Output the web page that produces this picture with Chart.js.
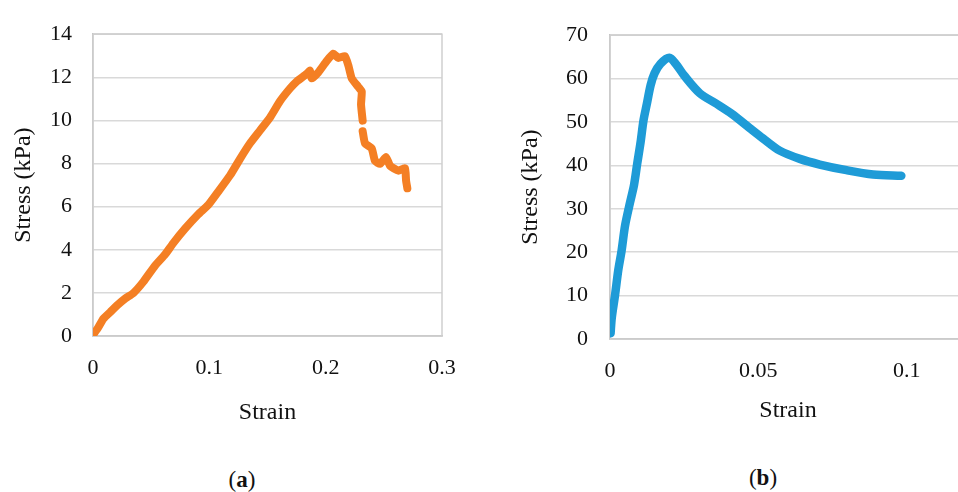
<!DOCTYPE html>
<html>
<head>
<meta charset="utf-8">
<script src="https://cdn.jsdelivr.net/npm/chart.js@4.4.1/dist/chart.umd.min.js"></script>
<style>
  html, body { margin: 0; padding: 0; background: #fff; overflow: hidden; width: 958px; height: 492px; }
  canvas { position: absolute; top: 0; }
  #chartA { left: 0; }
  #chartB { left: 480px; }
  .cap { position: absolute; font-family: 'Liberation Serif', serif; font-size: 23px; color: #111; transform: translate(-50%, -50%); }
</style>
</head>
<body>
<canvas id="chartA" width="480" height="440"></canvas>
<canvas id="chartB" width="500" height="440"></canvas>
<div class="cap" style="left:242px; top:480px;">(<b>a</b>)</div>
<div class="cap" style="left:763px; top:478px;">(<b>b</b>)</div>

<script>
// ---- data ----
// (a) sample: stress-strain, null marks the small break in the markers
const strainA = [0, 0.004, 0.0089, 0.015, 0.0218, 0.028, 0.0347, 0.0432, 0.0533, 0.0619,
  0.069, 0.0791, 0.0905, 0.0991, 0.1077, 0.1178, 0.1264, 0.135, 0.1436, 0.1522,
  0.1607, 0.1693, 0.1751, 0.1837, 0.1865, 0.188, 0.1937, 0.2009, 0.2066, 0.2109,
  0.2166, 0.2195, 0.2224, 0.228, 0.231, 0.2304, 0.2318, 0.2319, 0.2318, 0.2338,
  0.2396, 0.2424, 0.2467, 0.2519, 0.2553, 0.2625, 0.2682, 0.2691, 0.2702];
const stressA = [0.05, 0.35, 0.8, 1.12, 1.47, 1.75, 1.99, 2.51, 3.26, 3.78,
  4.31, 4.98, 5.65, 6.08, 6.7, 7.45, 8.22, 8.94, 9.54, 10.14,
  10.89, 11.48, 11.81, 12.16, 12.31, 11.95, 12.23, 12.76, 13.1, 12.9,
  12.98, 12.55, 11.95, 11.56, 11.34, 10.74, 9.99, null, 9.5, 8.94,
  8.7, 8.12, 7.99, 8.3, 7.9, 7.67, 7.78, 7.22, 6.85];
// few small blue markers visible on top of the orange series
const dotStrainA = [0.1865, 0.2195, 0.2205, 0.2298, 0.2302, 0.2306, 0.231, 0.2316, 0.2686, 0.2692, 0.2702];
const dotStressA = [12.33, 12.65, 12.3, 11.2, 10.85, 10.5, 10.25, 10.0, 7.7, 7.3, 6.9];

// (b) sample
const strainB = [0.0002, 0.0006, 0.0017, 0.0028, 0.0039, 0.0051, 0.0067, 0.0081, 0.0092, 0.0103,
  0.0113, 0.0124, 0.0137, 0.015, 0.017, 0.02, 0.0224, 0.025, 0.0303, 0.0359,
  0.041, 0.0471, 0.0516, 0.0572, 0.064, 0.0707, 0.0797, 0.0887, 0.0982];
const stressB = [1.3, 4.9, 10.1, 15.9, 20.3, 26.2, 31.3, 35.5, 40.5, 45.3,
  50.4, 54.1, 58.5, 61.2, 63.4, 64.8, 63.2, 60.7, 56.6, 54.2,
  51.9, 48.6, 46.2, 43.4, 41.5, 40.2, 38.9, 37.9, 37.6];

const xTicksA = [0, 0.1, 0.2, 0.3];
const xTicksB = [0, 0.05, 0.1];

const FONT = 'Liberation Serif';
const TEXT = '#111';

function toPoints(xs, ys) {
    return xs.map((x, i) => ({ x: x, y: ys[i] }));
}

// light frame round the plot area, like the spreadsheet chart
const frame = {
    id: 'frame',
    beforeDatasetsDraw(chart) {
        const a = chart.chartArea;
        const c = chart.ctx;
        c.save();
        c.strokeStyle = '#cfcfcf';
        c.lineWidth = 1.5;
        c.strokeRect(a.left, a.top, a.right - a.left, a.bottom - a.top);
        c.restore();
    }
};

function makeChart(id, cfg) {
    return new Chart(document.getElementById(id), {
        type: 'scatter',
        data: { datasets: cfg.datasets },
        options: {
            responsive: false,
            animation: false,
            layout: { padding: cfg.padding },
            plugins: { legend: { display: false }, tooltip: { enabled: false } },
            scales: {
                x: {
                    type: 'linear',
                    min: 0,
                    max: cfg.xMax,
                    afterBuildTicks: s => { s.ticks = cfg.xTicks.map(v => ({ value: v })); },
                    afterFit: s => { s.height = cfg.xHeight; },
                    grid: { display: false, drawTicks: false },
                    border: { color: '#bfbfbf', width: 1.5 },
                    ticks: {
                        color: TEXT, padding: 19, font: { family: FONT, size: 22 },
                        maxRotation: 0, callback: v => String(v)
                    },
                    title: {
                        display: true, text: 'Strain', color: TEXT,
                        font: { family: FONT, size: 24 }, padding: { top: 0, bottom: cfg.xTitlePad }
                    }
                },
                y: {
                    min: 0,
                    max: cfg.yMax,
                    afterFit: s => { s.width = cfg.yWidth; },
                    grid: { color: '#d9d9d9', lineWidth: 1.5, drawTicks: false },
                    border: { color: '#bfbfbf', width: 1.5 },
                    ticks: { stepSize: cfg.yStep, color: TEXT, padding: cfg.yTickPad, font: { family: FONT, size: 22 } },
                    title: {
                        display: true, text: 'Stress (kPa)', color: TEXT,
                        font: { family: FONT, size: 24 }, padding: { top: cfg.yTitlePad, bottom: 0 }
                    }
                }
            }
        },
        plugins: cfg.frame ? [frame] : []
    });
}

makeChart('chartA', {
    datasets: [{
        data: toPoints(strainA, stressA),
        showLine: true,
        spanGaps: false,
        tension: 0.15,
        borderColor: '#f47f24',
        borderWidth: 8,
        borderCapStyle: 'round',
        borderJoinStyle: 'round',
        pointRadius: 0
    }, {
        data: toPoints(dotStrainA, dotStressA),
        showLine: false,
        pointRadius: 1.6,
        pointBorderWidth: 0,
        pointBackgroundColor: '#3a9bd0'
    }],
    padding: { top: 24, right: 38, bottom: 0, left: 0 },
    xMax: 0.3, xTicks: xTicksA, xHeight: 104, xTitlePad: 13,
    yMax: 14, yStep: 2, yWidth: 93, yTickPad: 21, yTitlePad: 9,
    frame: true
});

makeChart('chartB', {
    datasets: [{
        data: toPoints(strainB, stressB),
        showLine: true,
        tension: 0.3,
        borderColor: '#1e9bd7',
        borderWidth: 8.5,
        borderCapStyle: 'round',
        borderJoinStyle: 'round',
        pointRadius: 0
    }],
    padding: { top: 21, right: 14, bottom: 0, left: 0 },
    xMax: 0.12, xTicks: xTicksB, xHeight: 101, xTitlePad: 15,
    yMax: 70, yStep: 10, yWidth: 130, yTickPad: 22, yTitlePad: 36,
    frame: true
});
</script>
</body>
</html>
